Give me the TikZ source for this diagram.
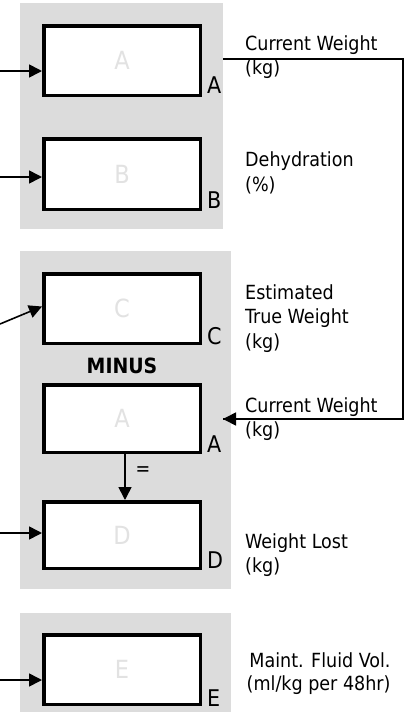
\documentclass[tikz,border=0pt]{standalone}
\usepackage{fontspec}
\setmainfont{DejaVu Sans Condensed}
\usetikzlibrary{arrows.meta}
\definecolor{panelgray}{RGB}{220,220,220}
\definecolor{ghost}{RGB}{226,226,226}
\tikzset{
  panel/.style={fill=panelgray, draw=none},
  calcbox/.style={draw=black, fill=white, line width=3.5pt, rectangle,
    minimum width=156.5pt, minimum height=69.5pt, inner sep=0pt,
    text=ghost, font=\fontsize{25}{30}\selectfont},
  boxlabel/.style={anchor=base west, inner sep=0pt, font=\fontsize{23}{26}\selectfont},
  desc/.style={anchor=base west, inner sep=0pt, align=left, font=\fontsize{19.5}{24.5}\selectfont},
  arr/.style={line width=1.6pt, -{Triangle[length=13pt,width=13pt]}},
  wire/.style={line width=1.6pt}
}
\begin{document}
\begin{tikzpicture}[x=1pt,y=-1pt]
\useasboundingbox (0,0) rectangle (406,723);
% panels
\fill[panel] (20,3) rectangle (223,229);
\fill[panel] (20,251) rectangle (231,589);
\fill[panel] (20,613) rectangle (231,712);
% boxes
\node[calcbox] (A) at (122,60.5) {A};
\node[calcbox, minimum height=70.5pt] (B) at (122,174) {B};
\node[calcbox] (C) at (122,308.5) {C};
\node[calcbox, minimum height=67.5pt] (A2) at (122,418.5) {A};
\node[calcbox, minimum height=66.5pt] (D) at (122,535) {D};
\node[calcbox] (E) at (122,669.5) {E};
% box labels
\node[boxlabel, xshift=5pt, yshift=3.5pt] (lA) at (A.south east) {A};
\node[boxlabel, xshift=5pt, yshift=2.5pt] (lB) at (B.south east) {B};
\node[boxlabel, xshift=5pt, yshift=0.5pt] (lC) at (C.south east) {C};
\node[boxlabel, xshift=5pt, yshift=1.5pt] (lA2) at (A2.south east) {A};
\node[boxlabel, xshift=5pt, yshift=2pt] (lD) at (D.south east) {D};
\node[boxlabel, xshift=5pt, yshift=-0.5pt] (lE) at (E.south east) {E};
% MINUS and equals
\node[font=\bfseries\fontsize{21}{24}\selectfont, inner sep=0pt] (minus) at (122,366) {MINUS};
\node[font=\fontsize{19.5}{24}\selectfont, inner sep=0pt] (eq) at (143,471) {=};
% descriptions (anchored at the baseline of the last line)
\node[desc] (d1) at (245,74.5) {Current Weight\\(kg)};
\node[desc] (d2) at (245,191) {Dehydration\\(\%)};
\node[desc] (d3) at (245,348) {Estimated\\True Weight\\(kg)};
\node[desc] (d4) at (245,436.5) {Current Weight\\(kg)};
\node[desc] (d5) at (245,572.5) {Weight Lost\\(kg)};
\node[desc, align=right, font=\fontsize{19.5}{23.5}\selectfont] (d6) at (246,690.5) {\,Maint. Fluid Vol.\\(ml/kg per 48hr)};
% incoming arrows
\coordinate (inA) at (0,71);
\coordinate (inB) at (0,177);
\coordinate (inC) at (0,324);
\coordinate (inD) at (0,533);
\coordinate (inE) at (0,680);
\draw[arr] (inA) -- (inA -| A.west);
\draw[arr] (inB) -- (inB -| B.west);
\draw[arr] (inC) -- ([yshift=2pt]C.west);
\draw[arr] (inD) -- (inD -| D.west);
\draw[arr] (inE) -- (inE -| E.west);
% A minus = D
\draw[arr] (A2.south -| 125,0) -- (D.north -| 125,0);
% current weight feedback
\coordinate (cwOut) at (223,59);
\coordinate (cwCorner1) at (403,59);
\coordinate (cwCorner2) at (403,419);
\coordinate (cwIn) at (223,419);
\draw[wire] (cwOut) -- (cwCorner1) -- (cwCorner2) -- (cwIn);
\draw[arr] (cwCorner2) -- (cwIn);
\end{tikzpicture}
\end{document}
